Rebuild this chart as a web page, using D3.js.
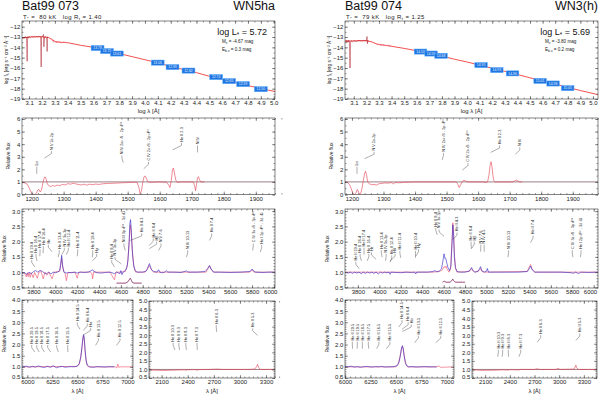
<!DOCTYPE html>
<html>
<head>
<meta charset="utf-8">
<script src="https://cdn.jsdelivr.net/npm/d3@7"></script>
<style>
  body { margin: 0; background: #fff; }
  svg text { font-family: 'Liberation Sans', Arial, Helvetica, sans-serif; }
</style>
</head>
<body>
<svg id="fig" width="600" height="394"></svg>
<script>
// ---------------- Bat99 073 (left column) ----------------
const s1_name = "Bat99 073", s1_type = "WN5ha";
const s1_Tstar = 80, s1_logRt = "1.40", s1_logL = "5.72", s1_Mv = "-4.67", s1_Ebv = "0.3";

// SED: [log lambda, log f_lambda]
const s1_sedModel = [[3.045,-13.1],[3.07,-13.05],[3.10,-13.0],[3.15,-12.98],[3.20,-12.97],[3.25,-13.05],[3.28,-13.25],[3.30,-13.42],[3.33,-13.5],[3.40,-13.55],[3.50,-13.8],[3.60,-14.0],[3.70,-14.3],[3.80,-14.6],[3.90,-14.9],[4.00,-15.2],[4.10,-15.5],[4.20,-15.85],[4.30,-16.15],[4.40,-16.45],[4.50,-16.8],[4.60,-17.1],[4.70,-17.4],[4.80,-17.7],[4.90,-17.98],[5.01,-18.28]];
const s1_sedObs = [[3.055,-13.15],[3.06,-13.0],[3.065,-13.12],[3.07,-12.95],[3.075,-13.08],[3.08,-13.0],[3.085,-15.35],[3.088,-13.1],[3.09,-12.98],[3.095,-13.12],[3.10,-12.95],[3.11,-13.06],[3.12,-12.94],[3.13,-13.02],[3.14,-12.92],[3.15,-13.01],[3.16,-12.95],[3.17,-12.99],[3.18,-12.94],[3.19,-13.0],[3.194,-15.9],[3.197,-13.0],[3.205,-12.95],[3.212,-12.75],[3.215,-13.95],[3.22,-13.0],[3.23,-12.96],[3.238,-13.3],[3.240,-14.4],[3.243,-13.0],[3.25,-13.05]];
const s1_sedOpt = [[3.28,-13.3],[3.29,-13.5],[3.30,-13.38],[3.31,-13.55],[3.32,-13.47],[3.33,-13.44],[3.35,-13.56],[3.37,-13.49],[3.40,-13.56]];
const s1_photLam  = [3.632,3.705,3.782,4.099,4.214,4.338,4.553,4.654,4.762,4.900];
const s1_photFlux = [-14.07,-14.36,-14.60,-15.48,-15.91,-16.25,-16.88,-17.27,-17.56,-18.05];
const s1_photMag  = ["13.79","13.72","13.61","13.05","12.93","12.82","12.74","12.65","12.59","12.50"];

// UV (IUE): [lambda, relative flux]
const s1_uv = [[1170,0.96],[1178,0.93],[1185,0.85],[1191,0.6],[1197,0.25],[1202,0.03],[1210,0.0],[1215,0.1],[1219,0.35],[1223,0.4],[1227,0.2],[1231,0.35],[1235,0.9],[1239,1.3],[1242,1.4],[1245,1.25],[1249,0.85],[1254,0.7],[1260,0.62],[1266,0.72],[1272,0.66],[1280,0.75],[1288,0.7],[1296,0.8],[1305,0.76],[1313,0.86],[1322,0.82],[1330,0.9],[1338,0.84],[1346,0.8],[1355,0.76],[1364,0.82],[1372,0.74],[1380,0.82],[1390,0.78],[1400,0.83],[1410,0.8],[1425,0.86],[1440,0.88],[1460,0.9],[1480,0.93],[1500,0.95],[1520,0.98],[1530,0.95],[1535,0.55],[1539,0.05],[1543,0.3],[1547,0.95],[1551,1.4],[1554,1.48],[1558,1.3],[1562,1.05],[1568,0.97],[1600,1.0],[1622,0.97],[1628,0.75],[1632,0.55],[1636,1.1],[1640,2.0],[1643,2.1],[1646,1.7],[1650,1.15],[1655,0.95],[1662,1.0],[1705,1.0],[1709,0.7],[1712,0.3],[1715,0.8],[1718,1.3],[1721,1.42],[1724,1.2],[1728,1.0],[1740,1.0]];
const s1_uvIds = [["Lα",1216,1216,2.2],["N V 2s-2p",1240,1262,3.45],["N IV 2s² ¹S - 2p ³P°",1486,1482,3.1],["C IV 2s ²S - 2p ²P°",1550,1565,2.6],["He II 2-3",1640,1668,4.1],["N IV",1718,1718,3.9]];

// optical: observation (blue) and model (red)
const s1_optObs = [[3695,0.96],[3720,0.98],[3740,0.92],[3760,1.0],[3780,0.95],[3800,1.02],[3820,1.05],[3840,1.0],[3860,1.06],[3880,1.03],[3900,0.97],[3920,0.95],[3940,1.0],[3960,0.94],[3980,1.0],[4000,0.98],[4020,1.0],[4040,1.05],[4050,1.3],[4058,1.55],[4066,1.2],[4080,1.0],[4100,0.97],[4120,0.99],[4150,0.98],[4180,1.0],[4200,0.97],[4230,1.0],[4260,0.99],[4300,1.0],[4330,1.05],[4340,1.08],[4350,1.03],[4380,0.98],[4420,0.97],[4460,0.99],[4500,1.0],[4520,0.98],[4540,0.95],[4560,1.0],[4590,0.95],[4600,1.05],[4610,0.92],[4620,1.0],[4640,1.05],[4655,1.15],[4665,1.4],[4675,2.0],[4682,2.6],[4688,2.72],[4694,2.45],[4700,1.95],[4708,1.5],[4718,1.2],[4730,1.05],[4750,1.0],[4780,1.0],[4800,1.0],[4830,1.03],[4845,1.12],[4855,1.22],[4861,1.28],[4868,1.2],[4880,1.08],[4900,1.02],[4930,1.0],[4944,1.08],[4955,1.0],[4980,0.98],[5000,1.0],[5015,1.05],[5030,1.0],[5080,1.0],[5150,0.99],[5200,1.04],[5215,1.0],[5300,1.0],[5370,1.02],[5395,1.12],[5411,1.22],[5425,1.1],[5450,1.0],[5500,1.0],[5600,0.99],[5700,1.0],[5780,1.02],[5801,1.1],[5812,1.05],[5830,1.0],[5900,0.99],[5950,1.0],[6010,1.0]];
const s1_optMod = [[3695,1.0],[3720,0.95],[3734,0.85],[3745,0.98],[3750,0.85],[3760,0.98],[3770,0.83],[3780,0.98],[3797,0.82],[3810,0.99],[3835,0.8],[3850,1.0],[3870,1.02],[3889,0.78],[3905,1.0],[3923,0.9],[3940,1.0],[3970,0.78],[3990,1.0],[4040,1.03],[4058,1.45],[4075,1.02],[4090,0.95],[4101,0.72],[4115,0.98],[4180,1.0],[4200,0.8],[4215,1.0],[4320,1.0],[4335,0.95],[4341,0.78],[4350,1.0],[4380,1.0],[4500,1.0],[4541,0.75],[4555,1.0],[4600,1.0],[4640,1.02],[4660,1.25],[4675,1.9],[4686,2.55],[4695,2.3],[4705,1.7],[4718,1.2],[4735,1.0],[4820,1.0],[4840,1.1],[4855,1.22],[4861,1.2],[4870,1.15],[4885,1.05],[4900,1.0],[5380,1.0],[5400,1.15],[5411,1.2],[5425,1.1],[5445,1.0],[5780,1.0],[5801,1.08],[5815,1.0],[6010,1.0]];
const s1_inset = [[4560,0.64],[4640,0.64],[4660,0.67],[4676,0.75],[4686,0.8],[4694,0.74],[4706,0.66],[4720,0.64],[4790,0.64]];
const s1_optIds = [["He II 19-4",3813,3784,1.4],["He II 18-4",3833,3823,1.6],["He II 17-4",3858,3860,1.75],["He II 16-4",3888,3890,1.85],["Hε",3970,3936,1.9],["He II 13-4",4026,4036,1.72],["N IV 3s-3p",4058,4082,1.8],["He II 12-4",4100,4119,1.8],["He II 11-4",4200,4205,1.75],["He II 10-4",4338,4342,1.72],["Hγ",4340,4378,1.6],["He II 9-4",4541,4516,1.4],["N V 3s-3p",4604,4546,1.5],["N III 3p ²P° - 3d ²D",4640,4628,1.94],["He II 4-3",4686,4790,2.27],["He II 8-4",4859,4896,2.1],["Hβ",4861,4927,2.0],["N V 7-6",4945,4967,1.94],["N IV 10-13",5200,5211,1.72],["He II 7-4",5411,5430,2.27],["C IV 3s ²S - 3p ²P°",5806,5811,1.94],["He I 2p ³P° - 3d ³D",5876,5888,1.89]];

// H alpha region
const s1_haObs = [[5950,1.0],[5990,1.03],[6020,0.98],[6050,1.02],[6080,0.99],[6110,1.04],[6140,1.0],[6170,0.97],[6200,1.03],[6230,0.98],[6260,1.05],[6290,0.96],[6320,1.0],[6350,1.02],[6380,0.98],[6410,1.0],[6440,1.01],[6470,1.0],[6500,1.04],[6520,1.15],[6535,1.45],[6548,1.95],[6556,2.3],[6563,2.45],[6570,2.25],[6578,1.75],[6588,1.3],[6600,1.08],[6620,1.0],[6660,0.98],[6700,1.01],[6740,1.0],[6780,0.99],[6820,1.01],[6870,1.0]];
const s1_haMod = [[5950,1.0],[6500,1.02],[6520,1.12],[6535,1.45],[6548,1.9],[6556,2.25],[6563,2.4],[6570,2.2],[6578,1.7],[6588,1.25],[6600,1.05],[6620,1.0],[6880,1.0],[6895,0.95],[6905,1.12],[6915,0.98],[6930,1.0],[7057,1.0]];
const s1_haIds = [["He II 20-5",6074,6044,1.98],["He II 19-5",6119,6094,1.98],["He II 18-5",6171,6144,1.98],["He II 17-5",6233,6204,1.98],["He II 16-5",6311,6294,1.98],["He II 15-5",6406,6404,1.98],["He II 14-5",6527,6500,3.0],["He II 6-4",6560,6600,2.95],["Hα",6563,6634,2.75],["He II 13-5",6683,6710,2.28],["He II 12-5",6891,6927,2.28]];

// near UV 2000-3400
const s1_uv2 = [[1955,0.98],[2000,0.96],[2060,0.95],[2120,0.94],[2180,0.95],[2240,0.96],[2300,0.97],[2360,0.98],[2385,0.95],[2400,0.98],[2480,0.99],[2511,0.96],[2530,0.99],[2650,1.0],[2733,1.02],[2800,1.0],[3100,1.0],[3170,1.02],[3190,1.15],[3203,1.3],[3215,1.12],[3235,1.0],[3403,1.0]];
const s1_uv2Ids = [["He II 10-3",2253,2233,2.55],["He II 9-3",2306,2298,2.55],["He II 8-3",2385,2378,2.55],["He II 7-3",2511,2507,2.55],["He II 6-3",2733,2728,3.6],["He II 5-3",3203,3147,3.4]];

// ---------------- Bat99 074 (right column) ----------------
const s2_name = "Bat99 074", s2_type = "WN3(h)";
const s2_Tstar = 79, s2_logRt = "1.25", s2_logL = "5.69", s2_Mv = "-3.80", s2_Ebv = "0.2";

const s2_sedModel = [[3.03,-13.4],[3.05,-13.4],[3.10,-13.38],[3.15,-13.35],[3.20,-13.35],[3.25,-13.5],[3.28,-13.68],[3.30,-13.72],[3.40,-13.9],[3.50,-14.1],[3.60,-14.33],[3.70,-14.6],[3.80,-14.85],[3.90,-15.15],[4.00,-15.42],[4.10,-15.72],[4.20,-16.02],[4.30,-16.33],[4.40,-16.63],[4.50,-16.95],[4.60,-17.25],[4.70,-17.55],[4.80,-17.88],[4.90,-18.18],[5.04,-18.58]];
const s2_sedObs = [[3.035,-13.45],[3.04,-13.3],[3.045,-13.55],[3.05,-13.35],[3.055,-13.5],[3.06,-13.3],[3.065,-13.45],[3.07,-16.0],[3.074,-13.5],[3.08,-13.35],[3.09,-13.45],[3.10,-13.35],[3.12,-13.42],[3.14,-13.34],[3.16,-13.4],[3.18,-13.35],[3.20,-13.38],[3.205,-12.95],[3.208,-13.65],[3.21,-13.35],[3.22,-13.4]];
const s2_sedOpt = [[3.28,-13.62],[3.29,-13.75],[3.30,-13.68],[3.31,-13.8],[3.33,-13.74],[3.35,-13.82],[3.38,-13.8],[3.40,-13.9]];
const s2_photLam  = [3.630,3.714,3.793,4.111,4.236,4.361,4.580,4.683,4.799];
const s2_photFlux = [-14.41,-14.60,-14.82,-15.72,-16.20,-16.52,-17.25,-17.50,-17.95];
const s2_photMag  = ["14.53","14.59","14.68","14.95","14.93","14.96","15.01","14.98","15.05"];

const s2_uv = [[1178,1.0],[1185,0.98],[1192,0.8],[1198,0.45],[1203,0.1],[1208,0.0],[1213,0.15],[1217,0.4],[1221,0.2],[1224,0.0],[1228,0.1],[1232,0.5],[1236,1.1],[1240,1.65],[1243,1.85],[1246,1.6],[1250,1.0],[1255,0.85],[1262,0.78],[1270,0.8],[1278,0.75],[1285,0.85],[1295,0.88],[1305,0.92],[1315,0.9],[1325,0.95],[1332,0.85],[1338,0.95],[1350,0.93],[1365,0.97],[1380,0.98],[1400,1.0],[1500,1.0],[1530,1.0],[1535,0.85],[1540,0.55],[1545,0.8],[1550,1.05],[1555,1.12],[1560,1.08],[1567,1.0],[1615,1.0],[1625,0.95],[1630,1.0],[1634,1.5],[1638,2.3],[1641,2.6],[1644,2.2],[1647,1.5],[1650,1.1],[1655,0.97],[1662,1.0],[1710,1.0],[1716,1.08],[1721,1.15],[1726,1.08],[1732,1.0],[1740,1.0]];
const s2_uvIds = [["Lα",1216,1216,2.2],["N V 2s-2p",1240,1270,3.4],["N IV 2s² ¹S - 2p ³P°",1486,1490,3.3],["C IV 2s ²S - 2p ²P°",1550,1568,2.5],["He II 2-3",1640,1668,3.9],["N IV",1718,1732,3.75]];

const s2_optObs = [[3690,1.0],[3710,0.97],[3730,1.0],[3750,0.96],[3770,1.0],[3790,0.97],[3810,1.0],[3830,0.95],[3850,1.0],[3870,0.96],[3890,1.0],[3910,0.97],[3930,1.0],[3950,0.96],[3970,1.0],[3990,0.94],[4010,1.0],[4030,0.97],[4050,1.0],[4070,0.98],[4090,1.0],[4100,0.93],[4110,1.0],[4150,0.99],[4200,0.98],[4250,1.0],[4300,0.99],[4330,1.0],[4340,0.94],[4350,1.0],[4400,1.0],[4450,1.0],[4500,1.02],[4520,1.05],[4540,1.01],[4560,1.04],[4580,1.1],[4595,1.4],[4604,1.6],[4612,1.45],[4620,1.45],[4630,1.3],[4640,1.15],[4655,1.05],[4668,1.2],[4678,1.9],[4686,2.55],[4693,2.2],[4700,1.5],[4710,1.15],[4725,1.02],[4760,1.0],[4800,1.0],[4840,1.04],[4855,1.12],[4861,1.15],[4870,1.08],[4890,1.0],[4920,1.02],[4935,1.12],[4945,1.18],[4955,1.05],[4980,1.0],[5000,1.03],[5008,1.12],[5018,1.0],[5100,1.0],[5200,1.0],[5300,1.0],[5380,1.02],[5400,1.12],[5411,1.2],[5425,1.08],[5450,1.0],[5550,1.0],[5700,1.0],[5790,0.98],[5810,0.96],[5830,1.0],[5860,0.95],[5880,1.0],[5950,0.99],[6040,1.0]];
const s2_optMod = [[3680,1.0],[4500,1.0],[4560,1.02],[4590,1.08],[4604,1.18],[4615,1.15],[4622,1.2],[4635,1.08],[4650,1.0],[4665,1.1],[4676,1.9],[4686,2.62],[4694,2.2],[4702,1.5],[4712,1.12],[4725,1.0],[4840,1.02],[4855,1.1],[4861,1.12],[4870,1.05],[4890,1.0],[4930,1.05],[4945,1.12],[4958,1.02],[4980,1.0],[5380,1.02],[5400,1.18],[5411,1.25],[5425,1.1],[5450,1.0],[6040,1.0]];
const s2_inset = [[4590,0.67],[4598,0.69],[4604,0.71],[4612,0.69],[4622,0.67],[4660,0.67],[4676,0.72],[4686,0.77],[4694,0.72],[4708,0.67],[4800,0.67]];
const s2_optIds = [["He II 19-4",3813,3781,1.34],["He II 18-4",3833,3821,1.6],["He II 17-4",3858,3857,1.8],["He II 16-4",3888,3903,1.6],["Hε",3970,3927,1.65],["He II 13-4",4026,4019,1.72],["N IV 3s-3p",4058,4064,1.6],["He II 12-4",4100,4116,1.55],["Hδ",4102,4147,1.6],["He II 11-4",4200,4192,1.7],["He II 10-4",4338,4338,1.7],["Hγ",4340,4366,1.75],["He II 9-4",4541,4527,2.45],["N V 3s-3p",4604,4558,2.4],["He II 4-3",4686,4725,2.3],["He II 8-4",4859,4856,2.0],["Hβ",4861,4886,2.0],["N V 7-6",4945,4947,1.9],["N IV 4-5",4979,4978,1.9],["N IV 10-13",5200,5206,1.72],["He II 7-4",5411,5434,2.2],["C IV 3s ²S - 3p ²P°",5806,5800,1.72],["He I 2p ³P° - 3d ³D",5876,5882,1.72]];

const s2_haObs = [[6000,1.02],[6030,1.0],[6060,1.03],[6090,0.99],[6120,1.01],[6150,0.98],[6180,1.0],[6210,1.02],[6240,1.0],[6270,0.99],[6300,1.01],[6330,1.0],[6360,1.02],[6390,0.99],[6420,1.0],[6450,1.0],[6480,1.01],[6510,1.05],[6530,1.2],[6545,1.55],[6556,1.85],[6563,1.95],[6570,1.85],[6580,1.5],[6592,1.2],[6605,1.05],[6625,1.0],[6660,1.01],[6700,0.99],[6740,1.0],[6780,1.01],[6820,1.0],[6860,1.0],[6900,1.0]];
const s2_haMod = [[6000,1.0],[6500,1.0],[6520,1.1],[6540,1.45],[6553,1.8],[6563,1.92],[6572,1.8],[6585,1.4],[6598,1.12],[6615,1.0],[6900,1.0],[6920,1.04],[6940,0.98],[7070,1.0]];
const s2_haIds = [["He II 20-5",6074,6072,2.13],["He II 19-5",6119,6121,2.13],["He II 18-5",6171,6170,2.13],["He II 17-5",6233,6229,2.13],["He II 16-5",6311,6333,2.13],["He II 15-5",6406,6441,2.13],["He II 14-5",6527,6560,3.1],["He II 6-4",6560,6620,3.0],["Hα",6563,6650,2.9],["He II 13-5",6683,6720,2.4],["He II 12-5",6891,6940,2.4]];

const s2_uv2 = [[1940,0.98],[2050,0.95],[2150,0.95],[2250,0.96],[2306,0.98],[2385,0.96],[2400,0.99],[2511,0.97],[2530,1.0],[2700,1.0],[2733,1.04],[2760,1.0],[2960,1.0],[2985,1.06],[3010,1.0],[3180,1.02],[3195,1.15],[3203,1.25],[3212,1.12],[3230,1.0],[3460,1.0]];
const s2_uv2Ids = [["He II 10-3",2253,2260,2.15],["He II 9-3",2306,2313,2.15],["He II 8-3",2385,2381,2.15],["He II 7-3",2511,2532,2.15],["He II 6-3",2733,2775,3.0],["He II 5-3",3203,3250,3.1]];

// ---------------- drawing ----------------
const svg = d3.select("#fig");
const BLUE = "#2c22c6", DARK = "#5a2c34", INK = "#222";
let clipN = 0;

function panel(r, xdom, ydom) {
  const x = d3.scaleLinear().domain(xdom).range([r[0], r[2]]);
  const y = d3.scaleLinear().domain(ydom).range([r[3], r[1]]);
  const id = "clip" + (clipN++);
  svg.append("clipPath").attr("id", id).append("rect")
    .attr("x", r[0]).attr("y", r[1]).attr("width", r[2] - r[0]).attr("height", r[3] - r[1]);
  const g = svg.append("g");
  const plot = g.append("g").attr("clip-path", "url(#" + id + ")");
  return {x, y, g, plot, r};
}

function axes(p, xt, xm, yt, ym, xf, yf, squeezeLast, liftFirst) {
  const [x0, y0, x1, y1] = p.r;
  const none = () => "";
  const ax = (gen, tr, vals, size, fmt, pad) => {
    const a = p.g.append("g").attr("transform", tr)
      .call(gen.tickValues(vals).tickSize(size).tickPadding(pad).tickFormat(fmt));
    a.select(".domain").remove();
    a.selectAll("line").attr("stroke", "#333").attr("stroke-width", 0.5);
    a.selectAll("text").attr("font-size", 6).attr("fill", INK);
    return a;
  };
  const bx = ax(d3.axisBottom(p.x), `translate(0,${y1})`, xt, -3, xf, 2.2);
  if (squeezeLast) {
    // last label pushed against the frame corner, as in the original
    bx.selectAll(".tick text").filter((d, i, n) => i === n.length - 1)
      .attr("text-anchor", "end").attr("dx", 3);
  }
  ax(d3.axisBottom(p.x), `translate(0,${y1})`, xm, -1.5, none, 2);
  ax(d3.axisTop(p.x), `translate(0,${y0})`, xt, -3, none, 2);
  ax(d3.axisTop(p.x), `translate(0,${y0})`, xm, -1.5, none, 2);
  const lx = ax(d3.axisLeft(p.y), `translate(${x0},0)`, yt, -3, yf, 1.6);
  if (liftFirst) {
    lx.selectAll(".tick text").filter((d, i) => i === 0).attr("dy", "0.05em");
  }
  ax(d3.axisLeft(p.y), `translate(${x0},0)`, ym, -1.5, none, 1.6);
  ax(d3.axisRight(p.y), `translate(${x1},0)`, yt, -3, none, 1.6);
  ax(d3.axisRight(p.y), `translate(${x1},0)`, ym, -1.5, none, 1.6);
  p.g.append("rect").attr("x", x0).attr("y", y0).attr("width", x1 - x0).attr("height", y1 - y0)
    .attr("fill", "none").attr("stroke", "#333").attr("stroke-width", 0.6);
}

function curve(p, data, color, w) {
  const line = d3.line().x(d => p.x(d[0])).y(d => p.y(d[1]));
  p.plot.append("path").datum(data).attr("d", line)
    .attr("fill", "none").attr("stroke", color).attr("stroke-width", w).attr("stroke-linejoin", "round");
}

function unity(p) {
  const d = p.x.domain();
  curve(p, [[d[0], 1], [d[1], 1]], DARK, 0.6);
}

function lineIds(p, list) {
  const g = p.g.append("g");
  list.forEach(([txt, lam, lab, lev]) => {
    const xa = p.x(lam), xb = p.x(lab), yb = p.y(lev);
    g.append("path").attr("d", `M${xa},${yb + 7}L${xb},${yb + 2.5}L${xb},${yb}`)
      .attr("fill", "none").attr("stroke", "#333").attr("stroke-width", 0.4);
    g.append("text").attr("transform", `translate(${xb + 1.3},${yb - 1.2}) rotate(-90)`)
      .attr("font-size", 3.8).attr("fill", INK).text(txt);
  });
}

function ylabel(x, y, size, build) {
  const t = svg.append("text").attr("transform", `translate(${x},${y}) rotate(-90)`)
    .attr("text-anchor", "middle").attr("font-size", size).attr("fill", INK);
  build(t);
}

// text made of plain and subscript pieces: [[str], [str, 1], ...]
function subText(t, parts, size) {
  let low = false;
  parts.forEach(([s, sub]) => {
    const ts = t.append("tspan").text(s);
    if (sub) { ts.attr("font-size", size * 0.7).attr("dy", size * 0.25); low = true; }
    else if (low) { ts.attr("dy", -size * 0.25); low = false; }
  });
}

function drawStar(S, L) {
  const X0 = L.x0, X1 = L.x1;
  svg.append("text").attr("x", X0).attr("y", 10.2).attr("font-size", 12.5).attr("fill", "#111").text(S.name);
  svg.append("text").attr("x", X1).attr("y", 10.2).attr("font-size", 12.5).attr("fill", "#111")
    .attr("text-anchor", "end").text(S.type);
  const st = svg.append("text").attr("x", X0 + 1).attr("y", 18.7).attr("font-size", 6).attr("fill", INK)
    .attr("letter-spacing", 0.4).attr("xml:space", "preserve");
  subText(st, [["T"], ["*", 1], [" =  " + S.tstar + " kK   log R"], ["t", 1], [" = " + S.logRt]], 6);

  // ---- SED ----
  const p1 = panel([X0, 21, X1, 99], L.sedDom, [-19, -11.45]);
  axes(p1, d3.range(31, 51).map(v => v / 10), d3.range(61, 101).map(v => v / 20),
       d3.range(-19, -11), d3.range(-38, -22).map(v => v / 2), d3.format(".1f"), d3.format("d"));
  curve(p1, S.sedModel, "#ee2424", 0.8);
  curve(p1, S.sedObs, "#a8101c", 0.5);
  curve(p1, S.sedOpt, "#f07080", 0.8);
  const bw = 0.05, bh = 0.25;
  S.photLam.forEach((l, i) => {
    const f = S.photFlux[i];
    p1.plot.append("rect").attr("x", p1.x(l - bw)).attr("y", p1.y(f + bh))
      .attr("width", p1.x(l + bw) - p1.x(l - bw)).attr("height", p1.y(f - bh) - p1.y(f + bh))
      .attr("fill", "#1f74e0").attr("stroke", "#5fb0ff").attr("stroke-width", 0.5);
    p1.plot.append("text").attr("x", p1.x(l)).attr("y", p1.y(f) + 1.2).attr("text-anchor", "middle")
      .attr("font-size", 3.4).attr("fill", "#e8f4ff").text(S.photMag[i]);
  });
  const lt = svg.append("text").attr("x", X1 - 8).attr("y", 35).attr("text-anchor", "end")
    .attr("font-size", 9).attr("fill", "#111");
  subText(lt, [["log L"], ["*", 1], [" = " + S.logL]], 9);
  const mt = svg.append("text").attr("x", X1 - 53).attr("y", 43).attr("font-size", 4.6).attr("fill", INK);
  subText(mt, [["M"], ["v", 1], [" = " + S.Mv + " mag"]], 4.6);
  const et = svg.append("text").attr("x", X1 - 53).attr("y", 51).attr("font-size", 4.6).attr("fill", INK);
  subText(et, [["E"], ["b-v", 1], [" = " + S.Ebv + " mag"]], 4.6);
  svg.append("text").attr("x", (X0 + X1) / 2).attr("y", 112.5).attr("text-anchor", "middle")
    .attr("font-size", 6).attr("fill", INK).text("log λ [Å]");
  ylabel(X0 - 14, 60, 4.8, t => subText(t, [["log f"], ["λ", 1], [" [erg s⁻¹ cm⁻² Å⁻¹]"]], 4.8));

  // ---- UV ----
  const p2 = panel([X0, 118, X1, 194.5], L.uvDom, [0, 6.08]);
  axes(p2, d3.range(1200, 2000, 100), d3.range(1180, 1990, 20), d3.range(0, 7), d3.range(0, 6.1, 0.5),
       d3.format("d"), d3.format("d"));
  unity(p2);
  curve(p2, S.uv, "#e23c50", 0.6);
  lineIds(p2, S.uvIds);
  ylabel(X0 - 12, 156, 5, t => t.text("Relative flux"));

  // ---- optical ----
  const p3 = panel([X0, 209, X1, 288], L.optDom, [0.48, 3.07]);
  axes(p3, d3.range(3800, 6001, 200), d3.range(3700, 6050, 50), d3.range(0.5, 3.01, 0.5),
       d3.range(0.5, 3.05, 0.1), d3.format("d"), d3.format(".1f"), true);
  curve(p3, S.optMod, "#ee4a64", 0.6);
  curve(p3, S.optObs, BLUE, 0.6);
  curve(p3, S.inset, "#c0305a", 0.6);
  curve(p3, S.inset, "#402070", 0.35);
  lineIds(p3, S.optIds);
  ylabel(X0 - 16, 249, 5, t => t.text("Relative flux"));

  // ---- H alpha ----
  const p4 = panel([X0, 300, L.haX1, 378], L.haDom, [0.5, 4.0]);
  axes(p4, d3.range(6000, 7001, 250), d3.range(5950, 7100, 50), d3.range(0.5, 4.01, 0.5),
       d3.range(0.5, 4.05, 0.1), d3.format("d"), d3.format(".1f"), false, true);
  curve(p4, S.haMod, "#ee4a64", 0.6);
  curve(p4, S.haObs, BLUE, 0.6);
  lineIds(p4, S.haIds);
  ylabel(X0 - 16, 339, 5, t => t.text("Relative flux"));
  svg.append("text").attr("x", (X0 + L.haX1) / 2).attr("y", 392.5).attr("text-anchor", "middle")
    .attr("font-size", 6).attr("fill", INK).text("λ [Å]");

  // ---- near UV ----
  const p5 = panel([L.nuX0, 301, L.nuX1, 378], L.nuDom, [0.5, 5.0]);
  axes(p5, d3.range(2100, 3301, 300), d3.range(1950, 3460, 50), d3.range(0.5, 5.01, 0.5),
       d3.range(0.5, 5.05, 0.1), d3.format("d"), d3.format(".1f"), false, true);
  unity(p5);
  curve(p5, S.uv2, "#e23c50", 0.6);
  lineIds(p5, S.uv2Ids);
  svg.append("text").attr("x", (L.nuX0 + L.nuX1) / 2).attr("y", 392.5).attr("text-anchor", "middle")
    .attr("font-size", 6).attr("fill", INK).text("λ [Å]");
}

drawStar({
  name: s1_name, type: s1_type, tstar: s1_Tstar, logRt: s1_logRt, logL: s1_logL, Mv: s1_Mv, Ebv: s1_Ebv,
  sedModel: s1_sedModel, sedObs: s1_sedObs, sedOpt: s1_sedOpt,
  photLam: s1_photLam, photFlux: s1_photFlux, photMag: s1_photMag,
  uv: s1_uv, uvIds: s1_uvIds, optObs: s1_optObs, optMod: s1_optMod, inset: s1_inset, optIds: s1_optIds,
  haObs: s1_haObs, haMod: s1_haMod, haIds: s1_haIds, uv2: s1_uv2, uv2Ids: s1_uv2Ids
}, {x0: 22, x1: 275, sedDom: [3.045, 5.01], uvDom: [1170, 1960], optDom: [3695, 6010],
    haX1: 133, haDom: [5947, 7057], nuX0: 149, nuX1: 275, nuDom: [1955, 3403]});

drawStar({
  name: s2_name, type: s2_type, tstar: s2_Tstar, logRt: s2_logRt, logL: s2_logL, Mv: s2_Mv, Ebv: s2_Ebv,
  sedModel: s2_sedModel, sedObs: s2_sedObs, sedOpt: s2_sedOpt,
  photLam: s2_photLam, photFlux: s2_photFlux, photMag: s2_photMag,
  uv: s2_uv, uvIds: s2_uvIds, optObs: s2_optObs, optMod: s2_optMod, inset: s2_inset, optIds: s2_optIds,
  haObs: s2_haObs, haMod: s2_haMod, haIds: s2_haIds, uv2: s2_uv2, uv2Ids: s2_uv2Ids
}, {x0: 345, x1: 598, sedDom: [3.03, 5.04], uvDom: [1178, 1980], optDom: [3680, 6040],
    haX1: 454, haDom: [6000, 7070], nuX0: 472, nuX1: 597, nuDom: [1940, 3460]});
</script>
</body>
</html>
